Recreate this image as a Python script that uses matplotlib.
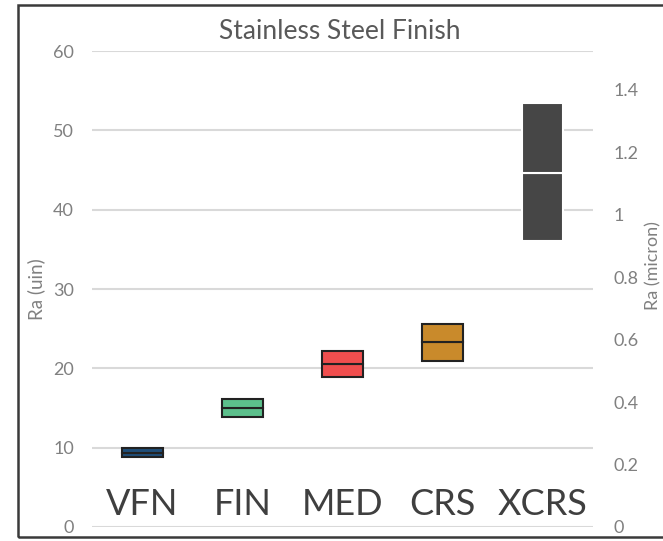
import matplotlib
matplotlib.use("Agg")
import matplotlib.pyplot as plt
from matplotlib.patches import Rectangle

plt.rcParams['font.family'] = ['Lato', 'DejaVu Sans']

# Stainless steel finish ranges, Ra in micro-inches
categorias = ['VFN', 'FIN', 'MED', 'CRS', 'XCRS']
ra_min = [8.8, 13.9, 18.9, 20.9, 36.1]
ra_medio = [9.35, 15.0, 20.6, 23.3, 44.6]
ra_max = [9.9, 16.1, 22.2, 25.6, 53.5]
colores = ['#1f4e79', '#5cc08c', '#f04e4e', '#c98a2b', '#464646']
bordes = ['#222222', '#222222', '#222222', '#222222', '#ffffff']

fig = plt.figure(figsize=(6.63, 5.41), dpi=100)
ax = fig.add_axes([0.1388, 0.0259, 0.7556, 0.8798])
x = list(range(len(categorias)))

inferior = [m - lo for lo, m in zip(ra_min, ra_medio)]
superior = [hi - m for m, hi in zip(ra_medio, ra_max)]
ax.bar(x, inferior, bottom=ra_min, width=0.41, color=colores,
       edgecolor=bordes, linewidth=1.5, zorder=3)
ax.bar(x, superior, bottom=ra_medio, width=0.41, color=colores,
       edgecolor=bordes, linewidth=1.5, zorder=3)

ax.set_xlim(-0.5, 4.5)
ax.set_ylim(0, 60)
ax.set_yticks(range(0, 61, 10))
ax.yaxis.grid(True, color='#d9d9d9', linewidth=1.5, zorder=0)
ax.set_axisbelow(True)
ax.set_xticks([])
for s in ax.spines.values():
    s.set_visible(False)
ax.tick_params(axis='y', length=0, labelsize=13, labelcolor='#808080', pad=13)
ax.set_ylabel('Ra (uin)', fontsize=13.5, color='#808080', labelpad=6)

for xi, c in zip(x, categorias):
    ax.text(xi, 1.5, c, ha='center', va='baseline', fontsize=26,
            color='#3f3f3f', zorder=4)

ax2 = ax.twinx()
ax2.set_ylim(0, 60 * 0.0254)
ax2.set_yticks([0, 0.2, 0.4, 0.6, 0.8, 1.0, 1.2, 1.4])
ax2.set_yticklabels(['0', '0.2', '0.4', '0.6', '0.8', '1', '1.2', '1.4'])
for s in ax2.spines.values():
    s.set_visible(False)
ax2.tick_params(axis='y', length=0, labelsize=13, labelcolor='#808080', pad=15)

fig.text(0.513, 0.941, 'Stainless Steel Finish', ha='center', va='center',
         fontsize=19, color='#595959')
fig.text(0.985, 0.51, 'Ra (micron)', ha='center', va='center', rotation=90,
         fontsize=13, color='#808080')

fig.patches.append(Rectangle((0.027, 0.0074), 1.2, 0.9834,
                             transform=fig.transFigure, fill=False,
                             edgecolor='#3a3a3a', linewidth=1.8))

fig.savefig('out.png', dpi=100)
